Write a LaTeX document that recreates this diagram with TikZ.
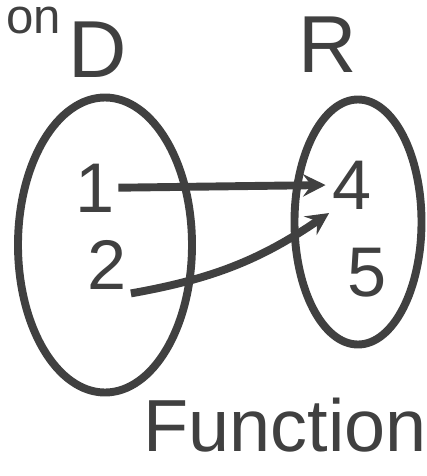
\documentclass[tikz,border=0pt]{standalone}
\usepackage{fontspec}
\setmainfont{Liberation Sans}
\usetikzlibrary{shapes.geometric}

\begin{document}
\begin{tikzpicture}[
  >=stealth,
  ink/.style={draw=black!75, line width=4.5pt},
  setring/.style={ink, ellipse, inner sep=0pt},
  elem/.style={text=black!75, font=\fontsize{40}{40}\selectfont, inner sep=2pt},
  setname/.style={text=black!75, font=\fontsize{46}{46}\selectfont, inner sep=0pt},
  every edge/.style={ink, ->},
]
  \useasboundingbox (0,0) rectangle (8.54,-9.52);

  % Heading remnant
  \node[text=black!75, font=\fontsize{28}{28}\selectfont, anchor=north west, inner sep=0pt] (head) at (0.12,-0.14) {on};

  % Sets
  \node[setring, minimum width=3.48cm, minimum height=5.9cm] (dom) at (2.1,-4.9) {};
  \node[setring, minimum width=2.54cm, minimum height=4.9cm] (ran) at (7.16,-4.44) {};

  % Set names
  \node[setname] (dname) at (1.95,-1.0) {D};
  \node[setname] (rname) at (6.55,-0.9) {R};

  % Elements
  \node[elem] (one) at (1.9,-3.76) {1};
  \node[elem] (two) at (2.15,-5.3) {2};
  \node[elem] (four) at (7.05,-3.7) {4};
  \node[elem] (five) at (7.35,-5.46) {5};

  % Caption
  \node[text=black!75, font=\fontsize{42}{42}\selectfont, inner sep=0pt] (cap) at (5.7,-8.5) {Function};

  % Mapping
  \draw (one) edge[shorten >=2pt] (four.west);
  \draw (two.south east) edge[bend right=12] (four.south west);
\end{tikzpicture}
\end{document}
